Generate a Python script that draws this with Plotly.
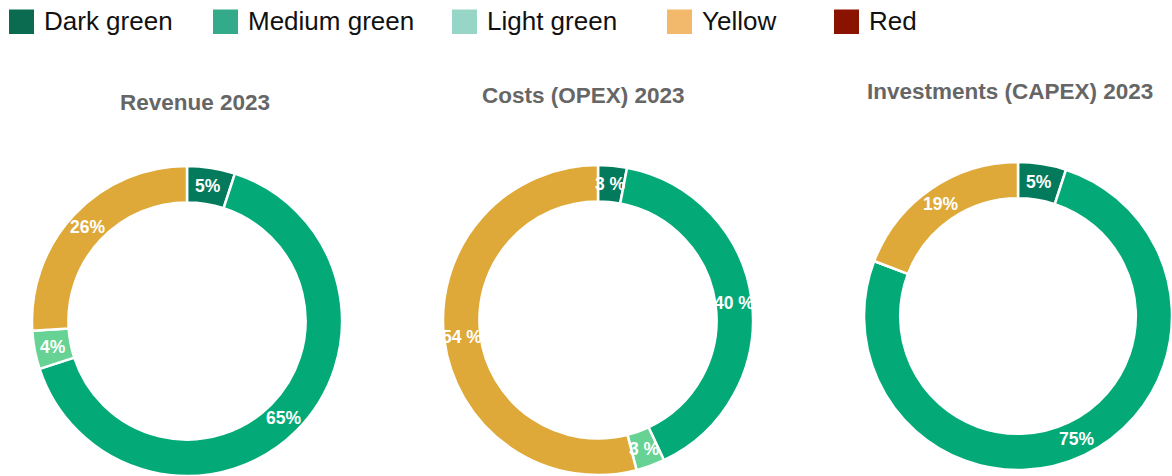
import math
import plotly.graph_objects as go

# Categories (clockwise order from 12 o'clock)
categories = ["Dark green", "Medium green", "Light green", "Yellow"]
legend_labels = ["Dark green", "Medium green", "Light green", "Yellow", "Red"]

# Shares in percent
revenue_2023 = [5, 65, 4, 26]
opex_2023 = [3, 40, 3, 54]
capex_2023 = [5, 75, 0, 19]

chart_titles = ["Revenue 2023", "Costs (OPEX) 2023", "Investments (CAPEX) 2023"]

# Styling
W, H = 1172, 476
HOLE = 0.765
slice_colors = ["#037a5b", "#03aa78", "#66d394", "#dea938"]
legend_colors = ["#0b6b50", "#33ab8b", "#97d6c6", "#f2b96c", "#8a1300"]
FONT = "Liberation Sans, Arial, sans-serif"

# Donut placement in pixels: (center x, center y, radius), title anchor
donuts = [
    dict(values=revenue_2023, fmt="{}%", cx=187, cy=321, r=155, tx=195, ty=102),
    dict(values=opex_2023, fmt="{} %", cx=598, cy=320, r=155, tx=583, ty=96),
    dict(values=capex_2023, fmt="{}%", cx=1018, cy=316, r=154, tx=1010, ty=92),
]

fig = go.Figure()
annotations = []
shapes = []

for d, title in zip(donuts, chart_titles):
    cx, cy, r = d["cx"], d["cy"], d["r"]
    vals = d["values"]
    fig.add_trace(go.Pie(
        labels=categories,
        values=vals,
        textinfo="none",
        marker=dict(colors=slice_colors, line=dict(color="white", width=2.5)),
        hole=HOLE,
        sort=False,
        direction="clockwise",
        rotation=0,
        showlegend=False,
        hoverinfo="label+percent",
        domain=dict(
            x=[(cx - r) / W, (cx + r) / W],
            y=[(H - cy - r) / H, (H - cy + r) / H],
        ),
    ))

    # Value labels at the middle of the ring, on each slice's bisector
    total = sum(vals)
    r_mid = r * (1 + HOLE) / 2
    cum = 0
    for v in vals:
        if v > 0:
            ang = 2 * math.pi * (cum + v / 2) / total
            px = cx + r_mid * math.sin(ang)
            py = cy - r_mid * math.cos(ang)
            annotations.append(dict(
                x=px / W, y=1 - py / H, xref="paper", yref="paper",
                text=d["fmt"].format(v), showarrow=False,
                xanchor="center", yanchor="middle",
                font=dict(family=FONT, size=17.5, color="white", weight="bold"),
            ))
        cum += v

    annotations.append(dict(
        x=d["tx"] / W, y=1 - d["ty"] / H, xref="paper", yref="paper",
        text=title, showarrow=False, xanchor="center", yanchor="middle",
        font=dict(family=FONT, size=22.5, color="#666666", weight="bold"),
    ))

# Legend row: coloured squares with labels
marker_x = [9, 213, 452, 667, 834]
for lx, lab, col in zip(marker_x, legend_labels, legend_colors):
    shapes.append(dict(
        type="rect", xref="paper", yref="paper",
        x0=lx / W, x1=(lx + 25) / W, y0=1 - 34 / H, y1=1 - 9.5 / H,
        fillcolor=col, line=dict(width=0),
    ))
    annotations.append(dict(
        x=(lx + 33) / W, y=1 - 21.5 / H, xref="paper", yref="paper",
        text=lab, showarrow=False, xanchor="left", yanchor="middle",
        font=dict(family=FONT, size=26, color="#111111"),
    ))

fig.update_layout(
    width=W, height=H,
    margin=dict(l=0, r=0, t=0, b=0),
    paper_bgcolor="white", plot_bgcolor="white",
    annotations=annotations,
    shapes=shapes,
)

fig.write_html("out.html")
